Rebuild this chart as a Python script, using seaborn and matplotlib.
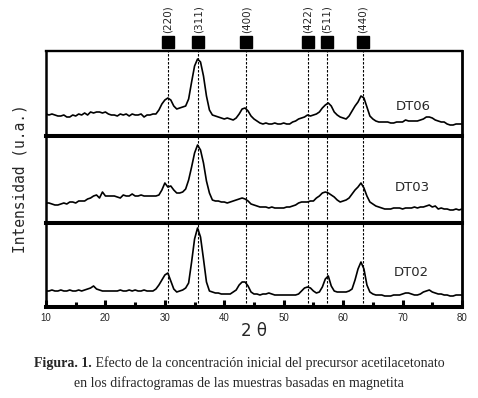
import numpy as np
import matplotlib
matplotlib.use("Agg")
import matplotlib.pyplot as plt
import matplotlib.transforms as mtransforms
import seaborn as sns

# scan grid (2 theta, degrees) and intensities (arb. units)
TWO_THETA = np.arange(10, 80.5, 0.5)

DT06 = [22, 21, 22, 21, 20, 20, 21, 19, 19, 21,
        20, 22, 21, 23, 21, 24, 23, 24, 24, 23,
        24, 22, 21, 21, 20, 22, 21, 22, 20, 22,
        21, 21, 22, 19, 21, 21, 22, 22, 26, 32,
        36, 38, 36, 30, 27, 28, 29, 30, 37, 54,
        70, 77, 74, 60, 40, 26, 21, 20, 19, 18,
        17, 18, 17, 16, 18, 22, 27, 28, 25, 20,
        17, 15, 13, 12, 13, 12, 12, 13, 12, 12,
        13, 12, 12, 14, 15, 17, 18, 19, 21, 20,
        21, 22, 24, 28, 31, 33, 30, 24, 21, 19,
        18, 17, 20, 25, 30, 34, 40, 38, 29, 20,
        17, 15, 14, 14, 14, 14, 13, 13, 14, 14,
        14, 16, 15, 15, 15, 15, 16, 17, 19, 19,
        18, 16, 15, 14, 14, 12, 11, 11, 12, 12,
        12]

DT03 = [20, 20, 19, 18, 18, 19, 20, 19, 21, 21,
        20, 22, 22, 22, 24, 25, 27, 28, 25, 31,
        27, 27, 27, 27, 26, 25, 28, 27, 27, 29,
        27, 27, 28, 27, 27, 27, 27, 27, 28, 33,
        40, 36, 37, 33, 30, 30, 31, 34, 43, 56,
        70, 78, 73, 60, 42, 30, 23, 22, 22, 21,
        21, 20, 21, 22, 23, 24, 25, 24, 22, 19,
        18, 17, 16, 16, 16, 15, 16, 15, 15, 15,
        15, 16, 16, 17, 18, 20, 21, 21, 21, 22,
        22, 25, 27, 30, 31, 30, 28, 26, 23, 21,
        22, 23, 25, 29, 33, 36, 40, 35, 27, 21,
        19, 17, 16, 15, 14, 14, 14, 15, 15, 15,
        14, 15, 15, 15, 16, 15, 16, 16, 17, 18,
        16, 17, 14, 15, 14, 14, 13, 13, 14, 13,
        14]

DT02 = [16, 16, 17, 16, 16, 17, 16, 16, 17, 16,
        16, 17, 16, 17, 18, 19, 21, 18, 17, 16,
        16, 16, 16, 16, 16, 17, 16, 16, 17, 16,
        17, 16, 16, 17, 16, 16, 16, 18, 22, 27,
        32, 34, 26, 18, 15, 16, 17, 19, 24, 45,
        68, 79, 70, 48, 25, 16, 15, 14, 14, 13,
        13, 13, 13, 15, 17, 22, 25, 25, 21, 15,
        13, 13, 12, 13, 13, 14, 13, 12, 12, 12,
        12, 12, 12, 12, 12, 13, 16, 19, 20, 19,
        16, 14, 15, 20, 28, 31, 21, 16, 15, 15,
        15, 15, 16, 18, 27, 38, 45, 38, 22, 15,
        13, 12, 12, 12, 11, 11, 11, 12, 12, 12,
        13, 14, 14, 13, 12, 12, 13, 15, 16, 17,
        15, 14, 13, 13, 12, 12, 11, 11, 12, 12,
        12]

SAMPLES = ["DT06", "DT03", "DT02"]
SERIES = [DT06, DT03, DT02]

# magnetite reflections
PEAKS = [30.5, 35.6, 43.7, 54.1, 57.2, 63.3]
PEAK_LABELS = ["(220)", "(311)", "(400)", "(422)", "(511)", "(440)"]

XTICKS = [10, 20, 30, 40, 50, 60, 70, 80]
XTICKS_MINOR = [15, 25, 35, 45, 55, 65, 75]

CAPTION_BOLD = "Figura. 1."
CAPTION_1 = " Efecto de la concentración inicial del precursor acetilacetonato"
CAPTION_2 = "en los difractogramas de las muestras basadas en magnetita"

W, H = 478, 398
X0, X1 = 46, 462
PANEL_PX = [(51, 136), (136, 223), (223, 307)]
LABEL_POS = [(71.8, 29), (71.6, 35), (71.4, 34)]

sns.set_style("white")
fig = plt.figure(figsize=(W / 100, H / 100), dpi=100)

axes = []
for i, (top, bot) in enumerate(PANEL_PX):
    ax = fig.add_axes([X0 / W, (H - bot) / H, (X1 - X0) / W, (bot - top) / H])
    sns.lineplot(x=TWO_THETA, y=SERIES[i], ax=ax, color="black", linewidth=1.2,
                 errorbar=None, zorder=3)
    ax.set_xlim(10, 80)
    ax.set_ylim(0, bot - top)
    for p in PEAKS:
        ax.axvline(p, color="black", lw=0.8, ls=(0, (2.2, 1.4)), zorder=1)
    lx, ly = LABEL_POS[i]
    ax.text(lx, ly, SAMPLES[i], ha="center", va="center", fontsize=9.5,
            family="DejaVu Sans")
    ax.set_yticks([])
    ax.set_ylabel("")
    ax.set_xlabel("")
    for s in ax.spines.values():
        s.set_visible(True)
        s.set_color("black")
        s.set_capstyle("projecting")
    ax.spines["left"].set_linewidth(1.8)
    ax.spines["right"].set_linewidth(2.0)
    ax.spines["top"].set_linewidth(1.7 if i == 0 else 2.9)
    ax.spines["bottom"].set_linewidth(2.9)
    if i < 2:
        ax.set_xticks([])
    axes.append(ax)

# bottom axis ticks
axb = axes[-1]
axb.set_xticks(XTICKS)
axb.set_xticks(XTICKS_MINOR, minor=True)
axb.tick_params(axis="x", which="major", direction="in", length=5, width=2.2,
                pad=4, labelsize=7, bottom=True, top=False, color="black")
axb.tick_params(axis="x", which="minor", direction="in", length=3.5, width=2.2,
                bottom=True, top=False, color="black")
for lab in axb.get_xticklabels():
    lab.set_family("Liberation Sans")

# peak markers above the top panel
ax0 = axes[0]
trans = mtransforms.blended_transform_factory(ax0.transData, ax0.transAxes)
ax0.plot(PEAKS, [1.105] * len(PEAKS), "s", ms=8, color="black",
         transform=trans, clip_on=False)
for p, lab in zip(PEAKS, PEAK_LABELS):
    ax0.text(p, 1.37, lab, rotation=90, ha="center", va="center", fontsize=7.5,
             transform=trans, family="DejaVu Sans")

fig.text(20 / W, 1 - 179 / H, "Intensidad (u.a.)", rotation=90, ha="center",
         va="center", fontsize=10.5, family="DejaVu Sans Mono")
fig.text(254 / W, 1 - 331 / H, "2 θ", ha="center", va="center", fontsize=12,
         family="DejaVu Sans")

# caption
t1 = fig.text(0, 1 - 363 / H, CAPTION_BOLD, weight="bold", family="Liberation Serif",
              fontsize=10, va="center")
t2 = fig.text(0, 1 - 363 / H, CAPTION_1, family="Liberation Serif", fontsize=10,
              va="center")
fig.text(0.5, 1 - 383 / H, CAPTION_2, family="Liberation Serif", fontsize=10,
         ha="center", va="center")
fig.canvas.draw()
r = fig.canvas.get_renderer()
w1 = t1.get_window_extent(r).width
w2 = t2.get_window_extent(r).width
start = (W - (w1 + w2)) / 2
t1.set_x(start / W)
t2.set_x((start + w1) / W)

fig.savefig("out.png", dpi=100)
